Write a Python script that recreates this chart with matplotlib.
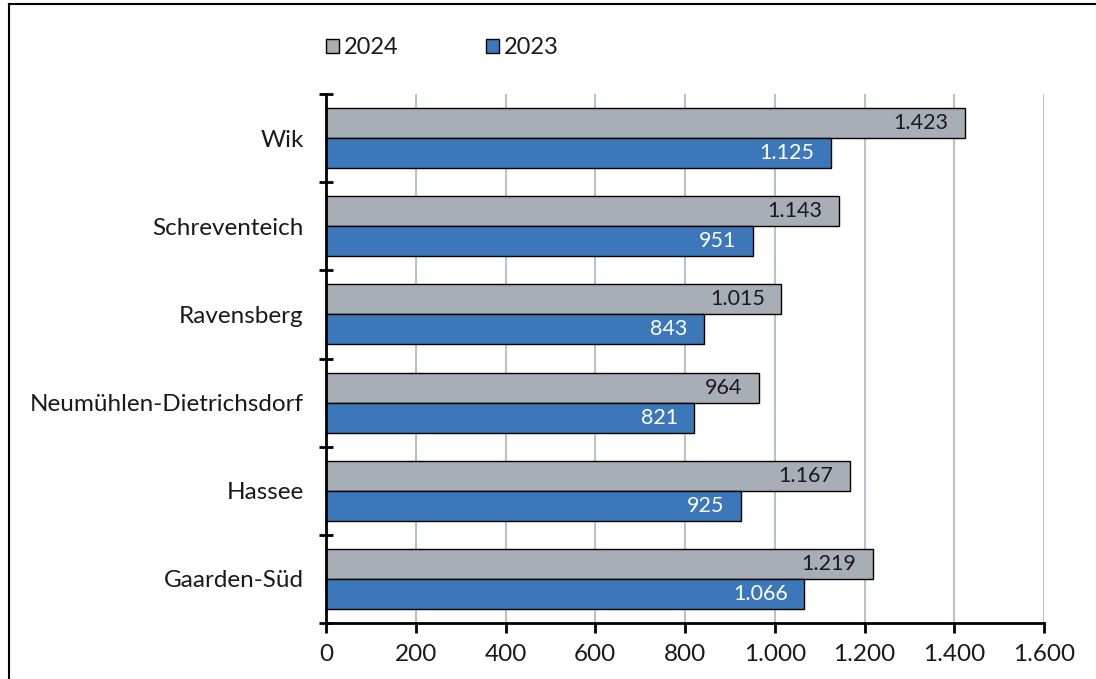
import numpy as np
import matplotlib.pyplot as plt
from matplotlib.lines import Line2D
from matplotlib.ticker import FuncFormatter, FixedLocator

plt.rcParams['font.family'] = ['Lato', 'DejaVu Sans']

districts = ['Wik', 'Schreventeich', 'Ravensberg', 'Neumühlen-Dietrichsdorf',
             'Hassee', 'Gaarden-Süd']
values_2024 = [1423, 1143, 1015, 964, 1167, 1219]
values_2023 = [1125, 951, 843, 821, 925, 1066]
x_ticks = [0, 200, 400, 600, 800, 1000, 1200, 1400, 1600]

grey = '#a7aeb6'
blue = '#3c78b9'
grid_col = '#b9c1cc'


def de_format(v, pos=None):
    return '{:,.0f}'.format(v).replace(',', '.')


fig = plt.figure(figsize=(10.96, 6.79), dpi=100)
ax = fig.add_axes([326 / 1096, 1 - 623 / 679, 718 / 1096, 529 / 679])

y = np.arange(len(districts))
h = 0.34
ax.barh(y - h / 2, values_2024, height=h, color=grey, edgecolor='black',
        linewidth=1.0, label='2024', zorder=3)
ax.barh(y + h / 2, values_2023, height=h, color=blue, edgecolor='black',
        linewidth=1.0, label='2023', zorder=3)

for yi, v in zip(y, values_2024):
    ax.annotate(de_format(v), (v, yi - h / 2), xytext=(-12, 0),
                textcoords='offset points', ha='right', va='center',
                fontsize=15.5, color='#1a1a1a', zorder=4)
for yi, v in zip(y, values_2023):
    ax.annotate(de_format(v), (v, yi + h / 2), xytext=(-12, 0),
                textcoords='offset points', ha='right', va='center',
                fontsize=15.5, color='white', zorder=4)

ax.set_xlim(0, 1600)
ax.set_ylim(len(districts) - 0.5, -0.5)
ax.set_xticks(x_ticks)
ax.xaxis.set_major_formatter(FuncFormatter(de_format))
ax.set_yticks(y)
ax.set_yticklabels(districts)
ax.yaxis.set_minor_locator(FixedLocator(np.arange(-0.5, len(districts), 1.0)))

ax.tick_params(axis='y', which='major', length=0, pad=16, labelsize=17.5,
               labelcolor='#1a1a1a')
ax.tick_params(axis='y', which='minor', length=10, width=2, direction='inout')
ax.tick_params(axis='x', which='major', length=7, width=2, direction='out',
               labelsize=17.5, pad=8, labelcolor='#1a1a1a')

ax.grid(axis='x', color=grid_col, linewidth=1.5, zorder=0)
ax.set_axisbelow(True)
for side in ('top', 'right'):
    ax.spines[side].set_visible(False)
for side in ('left', 'bottom'):
    ax.spines[side].set_linewidth(2)
    ax.spines[side].set_zorder(5)

leg = fig.legend(loc='upper left', bbox_to_anchor=(326 / 1096, 1 - 37 / 679),
                 ncol=2, frameon=False, fontsize=17, handlelength=0.55,
                 handleheight=0.55, handletextpad=0.2, columnspacing=3.7,
                 borderaxespad=0, borderpad=0)
for t in leg.get_texts():
    t.set_color('#1a1a1a')

# outer frame, open on the right and bottom edges
fig.add_artist(Line2D([8.5 / 1096, 8.5 / 1096], [0, 1 - 4 / 679],
                      transform=fig.transFigure, color='black', linewidth=1.5))
fig.add_artist(Line2D([8.5 / 1096, 1], [1 - 4 / 679, 1 - 4 / 679],
                      transform=fig.transFigure, color='black', linewidth=1.5))

fig.savefig('out.png', dpi=100)
